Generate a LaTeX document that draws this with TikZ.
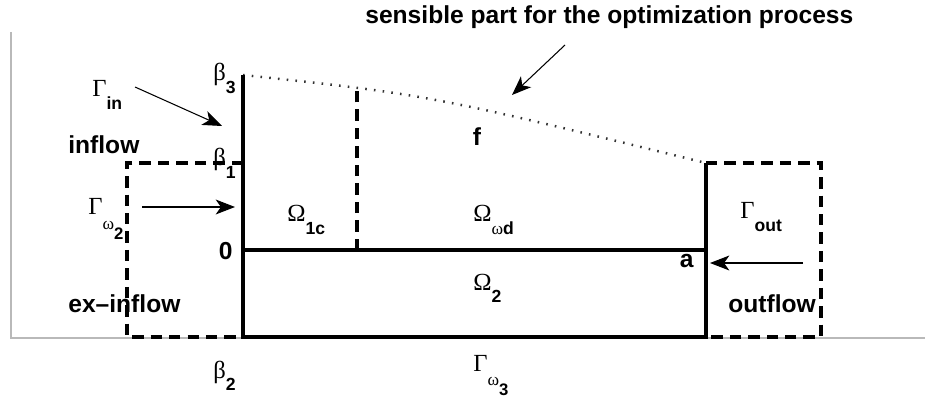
\documentclass[tikz,border=0pt]{standalone}
\usepackage{fontspec}
\setmainfont{Liberation Sans}
\newfontfamily\grk{Liberation Serif}
\usepackage{tikz}
\usetikzlibrary{arrows.meta}

\newcommand\gsub[2]{{\grk\mdseries #1}\raisebox{-7pt}{\fontsize{10}{12}\selectfont #2}}
\newcommand\gomega[2]{{\grk\mdseries #1}\raisebox{-8.5pt}{\fontsize{10}{12}\selectfont\grk\mdseries ω}\raisebox{-14pt}{\fontsize{9.5}{10}\selectfont #2}}

\begin{document}
\begin{tikzpicture}[x=0.02cm,y=-0.02cm,
  wall/.style={line width=2pt},
  cut/.style={line width=2pt,dash pattern=on 6.5pt off 4pt},
  frame/.style={gray!55,line width=1.3pt},
  lab/.style={inner sep=0pt,anchor=base west,font=\fontsize{14}{16}\selectfont\bfseries},
  hint/.style={line width=0.6pt,-{Stealth[length=11pt,width=8.5pt,inset=3pt]}}]
  \useasboundingbox (0,0) rectangle (925,398);
  % frame
  \draw[frame] (11,32) -- (11,338) -- (925,338);
  % corners of the domain
  \coordinate (b3) at (243,75);
  \coordinate (b1) at (243,163);
  \coordinate (o) at (243,250);
  \coordinate (b2) at (243,337);
  \coordinate (ra) at (706,250);
  \coordinate (rt) at (706,163);
  \coordinate (rb) at (706,337);
  \coordinate (ct) at (357,90);
  \coordinate (cb) at (357,250);
  % sensible part
  \draw[gray!40!black,line width=1.4pt,dash pattern=on 0.9pt off 4.1pt] (b3) .. controls (430,95) .. (rt);
  \draw[wall] (b3) -- (b2) -- (rb) -- (rt);
  \draw[wall] (o) -- (ra);
  \draw[cut] (cb) -- (ct);
  \draw[cut] (b1) -- (127,163) -- (127,337) -- (b2);
  \draw[cut] (rt) -- (821,163) -- (821,337) -- (rb);
  % labels
  \node[lab] (title) at (365,24) {sensible part for the optimization process};
  \node[lab] (gin) at (92,97) {\gsub{Γ}{in}};
  \node[lab] (inflow) at (68,154) {inflow};
  \node[lab] (beta3) at (213,81) {\gsub{β}{3}};
  \node[lab] (beta1) at (213,166) {\gsub{β}{1}};
  \node[lab] (gw2) at (88,215) {\gomega{Γ}{2}};
  \node[lab,anchor=base east] (zero) at (233,259) {0};
  \node[lab] (exin) at (68,312) {ex–inflow};
  \node[lab] (beta2) at (213,378) {\gsub{β}{2}};
  \node[lab] (w1c) at (287,222) {\gsub{Ω}{1c}};
  \node[lab] (wwd) at (473,222) {\gsub{Ω}{{\grk\mdseries ω}d}};
  \node[lab,anchor=base] (f) at (477,146) {f};
  \node[lab] (w2) at (473,290) {\gsub{Ω}{2}};
  \node[lab] (gw3) at (473,371) {\gomega{Γ}{3}};
  \node[lab,anchor=base east] (a) at (694,268) {a};
  \node[lab] (gout) at (740,219) {\gsub{Γ}{out}};
  \node[lab] (outflow) at (728,312) {outflow};
  % arrows
  \coordinate (tA) at (565,45);
  \coordinate (tB) at (512,95);
  \coordinate (inA) at (135,87);
  \coordinate (inB) at (222,126);
  \coordinate (w2A) at (142,207);
  \coordinate (w2B) at (235,207);
  \coordinate (outA) at (803,263);
  \coordinate (outB) at (710,263);
  \draw[hint] (tA) -- (tB);
  \draw[hint] (inA) -- (inB);
  \draw[hint] (w2A) -- (w2B);
  \draw[hint] (outA) -- (outB);
\end{tikzpicture}
\end{document}
